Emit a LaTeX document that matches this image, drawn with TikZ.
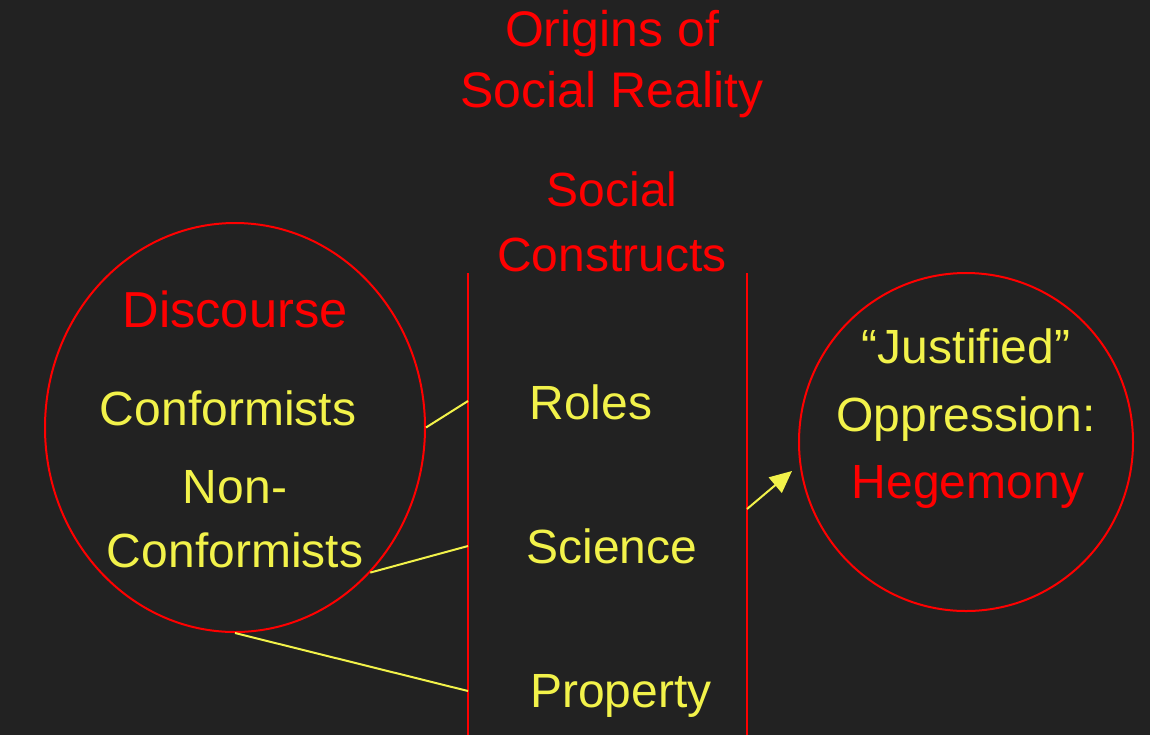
\documentclass[tikz,border=0pt]{standalone}
\usepackage{fontspec}
\setmainfont{Liberation Sans}
\usetikzlibrary{shapes.geometric,arrows.meta}
\definecolor{bg}{HTML}{222222}
\definecolor{tred}{HTML}{FF0000}
\definecolor{tyel}{HTML}{F2F24A}
\tikzset{
  redtxt/.style={text=tred, anchor=base, inner sep=0pt, font=\fontsize{24}{28}\selectfont},
  yeltxt/.style={text=tyel, anchor=base, inner sep=0pt, font=\fontsize{24}{28}\selectfont},
  titletxt/.style={text=tred, anchor=base, inner sep=0pt, font=\fontsize{25}{30}\selectfont},
  oval/.style={draw=tred, line width=1pt, ellipse, inner sep=0pt},
  divider/.style={draw=tred, line width=1pt},
  link/.style={draw=tyel, line width=1pt},
  arrowlink/.style={draw=tyel, line width=1pt, -{Triangle[length=11pt,width=10pt]}}
}
\begin{document}
\begin{tikzpicture}[x=0.5pt,y=-0.5pt]
\fill[bg] (0,0) rectangle (1150,735);
\useasboundingbox (0,0) rectangle (1150,735);
% title
\node[titletxt] (title1) at (612,46) {Origins of};
\node[titletxt] (title2) at (612,107) {Social Reality};
\node[redtxt] (sc1) at (612,206) {Social};
\node[redtxt] (sc2) at (612,271) {Constructs};
% ellipses
\node[oval, minimum width=190pt, minimum height=204.5pt] (disc) at (235,427.5) {};
\node[oval, minimum width=167pt, minimum height=169pt] (hege) at (966,442) {};
% left texts
\node[redtxt, font=\fontsize{25.3}{30}\selectfont] (discourse) at (235,327) {Discourse};
\node[yeltxt] (conf) at (228,425) {Conformists};
\node[yeltxt] (non1) at (235,503) {Non-};
\node[yeltxt] (non2) at (235,567) {Conformists};
% middle texts
\node[yeltxt] (roles) at (591,419) {Roles};
\node[yeltxt] (science) at (612,563) {Science};
\node[yeltxt] (property) at (621,707) {Property};
% right texts
\node[yeltxt] (just) at (966,363) {“Justified”};
\node[yeltxt] (opp) at (966,431) {Oppression:};
\node[redtxt] (hegtxt) at (968,498) {Hegemony};
% dividers
\coordinate (lt) at (468,273);
\coordinate (lb) at (468,735);
\coordinate (rt) at (747,273);
\coordinate (rb) at (747,735);
\draw[divider] (lt) -- (lb);
\draw[divider] (rt) -- (rb);
% connectors
\coordinate (p1) at (468,401);
\coordinate (p2) at (468,546);
\coordinate (p3) at (468,691);
\draw[link] (disc.east) -- (p1);
\draw[link] (disc.-47) -- (p2);
\draw[link] (disc.south) -- (p3);
\coordinate (a1) at (747,509);
\coordinate (a2) at (792,471);
\draw[arrowlink] (a1) -- (a2);
\end{tikzpicture}
\end{document}
